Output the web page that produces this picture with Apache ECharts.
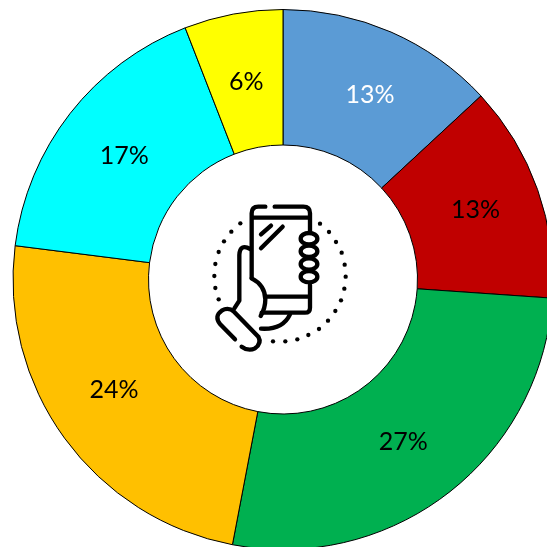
<!DOCTYPE html>
<html><head><meta charset="utf-8">
<style>html,body{margin:0;padding:0;background:#fff}#c{width:547px;height:547px}</style>
<script src="https://cdn.jsdelivr.net/npm/echarts@6/dist/echarts.min.js"></script>
</head><body><div id="c"></div>
<script>
const labels = ['13%','13%','27%','24%','17%','6%'];
const values = [13.1,13,26.9,24,17.1,5.9];
const colors = ['#5B9BD5','#C00000','#00B050','#FFC000','#00FFFF','#FFFF00'];
const labelColors = ['#ffffff','#000000','#000000','#000000','#000000','#000000'];
const labelOffsets = [[5,4],[-1,-1],[-5,0],[-3,-10],[3,3],[1,4]];
const iconStrokes = [
 'M226 80H205Q185 80 185 100V295',
 'M254 80H340Q360 80 360 100V155',
 'M360 315V383Q360 398 345 398H215',
 'M190 113H355','M230 350H355',
 'M213 163L243 137','M213 205L278 140',
 'M181 207Q150 190 148 225V362L133 385',
 'M135 478L90 432Q72 408 95 392Q115 380 132 395L205 470Q216 490 195 505Q175 515 155 500',
 'M185 295Q225 315 226 358Q226 385 212 408',
 'M213 446Q278 450 300 403'
];
const iconFingers = [176,214,252,290];
const iconDots = [[151,130],[124,155],[102,184],[86,216],[76,252],[73,288],[76,324],[86,358],
 [390,131],[417,156],[438,186],[455,218],[464,254],[467,290],[463,326],[453,361],[436,393],
 [414,422],[387,447],[355,465],[322,478],[286,484],[249,484]];

const iconChildren = [];
iconDots.forEach(d => iconChildren.push({type:'circle',shape:{cx:d[0],cy:d[1],r:6.5},style:{fill:'#000'}}));
iconStrokes.forEach((p,i) => {
  const name = 'iconStroke' + i;
  echarts.graphic.registerShape(name, echarts.graphic.extendPath(p, {}));
  iconChildren.push({type:name,
    style:{fill:null,stroke:'#000',lineWidth:13,lineCap:'round',lineJoin:'round'}});
});
iconFingers.forEach(y => iconChildren.push({type:'ellipse',shape:{cx:357,cy:y,rx:25,ry:17},
  style:{fill:'#fff',stroke:'#000',lineWidth:13}}));

const chart = echarts.init(document.getElementById('c'),null,{renderer:'canvas'});
chart.setOption({
  animation:false,
  backgroundColor:'#ffffff',
  series:[{
    type:'pie',
    center:[283,279.5],
    radius:[134.5,270],
    startAngle:90,
    clockwise:true,
    avoidLabelOverlap:false,
    silent:true,
    data:values.map((v,i)=>({value:v,name:labels[i],
      itemStyle:{color:colors[i]},
      label:{color:labelColors[i],offset:labelOffsets[i]}})),
    itemStyle:{borderColor:'#000',borderWidth:1},
    label:{show:true,position:'inside',formatter:'{b}',fontFamily:'Lato',fontSize:25},
    labelLine:{show:false}
  }],
  graphic:[{type:'group',x:190,y:180,scaleX:1/3,scaleY:1/3,children:iconChildren}]
});
</script></body></html>
